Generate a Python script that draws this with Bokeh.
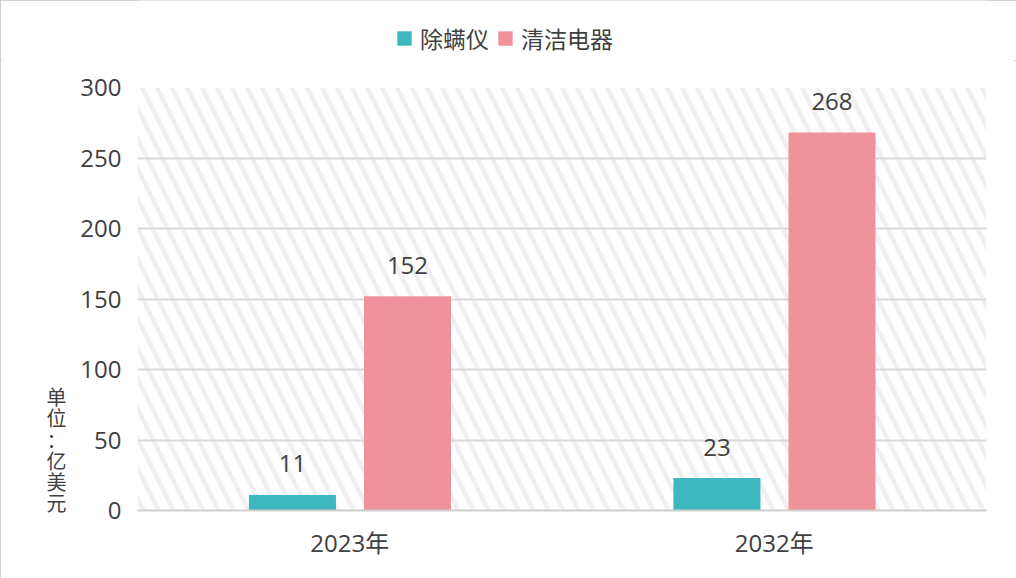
from bokeh.plotting import figure
from bokeh.layouts import column
from bokeh.models import (ColumnDataSource, FactorRange, LabelSet, Legend, LegendItem,
                          BoxAnnotation, Range1d, FixedTicker, LinearAxis)
from bokeh.core.properties import value
from bokeh.transform import dodge
from bokeh.embed import file_html
from bokeh.resources import INLINE

years = ["2023年", "2032年"]
series_names = ["除螨仪", "清洁电器"]
mite_removers = [11, 23]
cleaning_appliances = [152, 268]
y_ticks = [0, 50, 100, 150, 200, 250, 300]
unit_label = "单位：亿美元"

colors = ["#3DB8BE", "#F0929C"]
FONT = "Open Sans, Noto Sans CJK SC, sans-serif"
TXT = "#404040"

src = ColumnDataSource(dict(
    year=years,
    a=mite_removers,
    b=cleaning_appliances,
    a_txt=[str(v) for v in mite_removers],
    b_txt=[str(v) for v in cleaning_appliances],
))

# ---- legend strip on top ----
lf = figure(width=1016, height=60, output_backend="svg", toolbar_location=None,
            x_axis_type=None, y_axis_type=None, min_border=0,
            x_range=Range1d(0, 1), y_range=Range1d(0, 1))
lf.grid.grid_line_color = None
lf.outline_line_color = None
la = lf.vbar(x=[0], top=[0], bottom=[0], width=0, fill_color=colors[0], line_color=None)
lb = lf.vbar(x=[0], top=[0], bottom=[0], width=0, fill_color=colors[1], line_color=None)
legend = Legend(items=[LegendItem(label=series_names[0], renderers=[la]),
                       LegendItem(label=series_names[1], renderers=[lb])],
                orientation="horizontal", location=(258, 5),
                glyph_width=18, glyph_height=18, label_text_font=FONT,
                label_text_font_size="23px", label_text_color=TXT, label_standoff=7,
                spacing=7, padding=0, margin=0, border_line_color=None,
                background_fill_alpha=0)
lf.add_layout(legend, "center")

# ---- main chart ----
p = figure(width=1016, height=518, x_range=FactorRange(*years), y_range=Range1d(0, 300),
           output_backend="svg", toolbar_location=None,
           min_border_left=137, min_border_right=30, min_border_top=27, min_border_bottom=68)
p.outline_line_color = None
p.background_fill_color = "white"

bg = BoxAnnotation(fill_color="white", fill_alpha=1.0, line_color=None,
                   hatch_pattern="\\", hatch_color="#f0f0f0", hatch_weight=4.5, hatch_scale=30,
                   level="image")
p.add_layout(bg)

ra = p.vbar(x=dodge("year", -0.135, range=p.x_range), top="a", width=0.205, source=src,
            fill_color=colors[0], line_color=None)
rb = p.vbar(x=dodge("year", 0.136, range=p.x_range), top="b", width=0.205, source=src,
            fill_color=colors[1], line_color=None)

for col, off in (("a", -0.135), ("b", 0.136)):
    p.add_layout(LabelSet(x=dodge("year", off, range=p.x_range), y=col, text=col + "_txt",
                          source=src, y_offset=31, text_align="center", text_baseline="middle",
                          text_font=value(FONT), text_font_size="24px", text_color=TXT))

p.xgrid.grid_line_color = None
p.ygrid.grid_line_color = "#d9d9d9"
p.ygrid.grid_line_width = 2

yax = p.yaxis[0]
yax.ticker = FixedTicker(ticks=y_ticks)
yax.axis_line_color = None
yax.major_tick_line_color = None
yax.minor_tick_line_color = None
yax.major_tick_out = 0
yax.major_tick_in = 0
yax.minor_tick_out = 0
yax.major_label_text_font = FONT
yax.major_label_text_font_size = "24px"
yax.major_label_text_color = TXT
yax.major_label_standoff = 16

xax = p.xaxis[0]
xax.axis_line_color = "#d0d0d0"
xax.axis_line_width = 2
xax.major_tick_line_color = None
xax.minor_tick_line_color = None
xax.major_tick_out = 0
xax.major_tick_in = 0
xax.major_label_text_font = FONT
xax.major_label_text_font_size = "24px"
xax.major_label_text_color = TXT
xax.major_label_standoff = 15

# vertical unit label, one upright character per line
unit_pos = [80, 65, 50, 35, 20, 5]
unit_ax = LinearAxis(ticker=FixedTicker(ticks=unit_pos),
                     major_label_overrides={pos: ch for pos, ch in zip(unit_pos, unit_label)},
                     axis_line_color=None, major_tick_line_color=None,
                     minor_tick_line_color=None, major_tick_out=0, major_tick_in=0,
                     minor_tick_out=0, major_label_standoff=11,
                     major_label_text_font=FONT, major_label_text_font_size="20px",
                     major_label_text_color=TXT)
p.add_layout(unit_ax, "left")

layout = column(lf, p, spacing=0, width=1016, height=578)
layout.styles = {"outline": "2px solid #c4c4c4", "outline-offset": "-2px"}

open("out.html", "w").write(file_html(layout, INLINE))
